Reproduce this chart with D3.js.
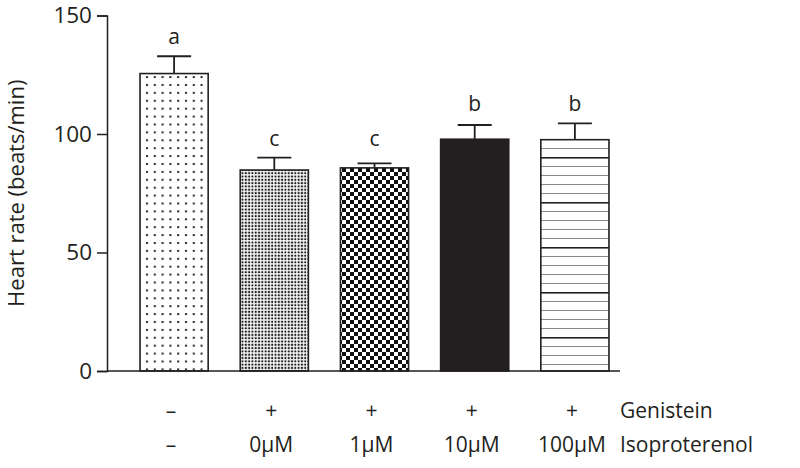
<!DOCTYPE html>
<html>
<head>
<meta charset="utf-8">
<script src="https://cdn.jsdelivr.net/npm/d3@7"></script>
<style>
  body { margin: 0; background: #fff; }
  text { font-family: "Open Sans", "Noto Sans", sans-serif; fill: #231f20; }
</style>
</head>
<body>
<script>
// data
const groups = ['ctrl', 'iso0', 'iso1', 'iso10', 'iso100']
const heartRate = [125.5, 84.8, 85.7, 97.8, 97.6]
const errUpper = [132.8, 90.0, 87.6, 103.8, 104.5]
const letters = ['a', 'c', 'c', 'b', 'b']
const genistein = ['\u2013', '+', '+', '+', '+']
const isoproterenol = ['\u2013', '0\u03bcM', '1\u03bcM', '10\u03bcM', '100\u03bcM']
const fills = ['dotsSparse', 'dotsDense', 'checker', 'solid', 'hlines']
const yTicks = [0, 50, 100, 150]

const width = 800
const height = 468
const axisX = 107
const axisEnd = 620

const svg = d3.select('body').append('svg')
  .attr('width', width)
  .attr('height', height)

const ink = '#231f20'

// patterns for the bar fills
const defs = svg.append('defs')

const p1 = defs.append('pattern').attr('id', 'dotsSparse')
  .attr('patternUnits', 'userSpaceOnUse').attr('width', 7.8).attr('height', 7.9)
  .attr('x', 143).attr('y', 2)
p1.append('rect').attr('width', 7.8).attr('height', 7.9).attr('fill', '#fff')
p1.append('rect').attr('x', 3).attr('y', 3).attr('width', 2).attr('height', 2).attr('fill', '#222')

const p2 = defs.append('pattern').attr('id', 'dotsDense')
  .attr('patternUnits', 'userSpaceOnUse').attr('width', 3.3).attr('height', 3.3)
p2.append('rect').attr('width', 3.3).attr('height', 3.3).attr('fill', '#fff')
p2.append('rect').attr('x', 0.6).attr('y', 0.6).attr('width', 2).attr('height', 2).attr('fill', '#1a1a1a')

const p3 = defs.append('pattern').attr('id', 'checker')
  .attr('patternUnits', 'userSpaceOnUse').attr('width', 8).attr('height', 8)
  .attr('x', 342).attr('y', 0)
p3.append('rect').attr('width', 8).attr('height', 8).attr('fill', '#fff')
p3.append('rect').attr('width', 4).attr('height', 4).attr('fill', '#111')
p3.append('rect').attr('x', 4).attr('y', 4).attr('width', 4).attr('height', 4).attr('fill', '#111')

const p5 = defs.append('pattern').attr('id', 'hlines')
  .attr('patternUnits', 'userSpaceOnUse').attr('width', 10).attr('height', 45)
  .attr('x', 0).attr('y', 22)
p5.append('rect').attr('width', 10).attr('height', 45).attr('fill', '#fff')
d3.range(5).forEach(i => {
  p5.append('rect').attr('x', 0).attr('y', i * 9)
    .attr('width', 10).attr('height', i === 0 ? 1.6 : 1)
    .attr('fill', i === 0 ? '#222' : '#8a8a8a')
})

const fillFor = (f) => f === 'solid' ? ink : `url(#${f})`

const x = d3.scaleBand().domain(groups).range([124, 625])
  .paddingInner(0.32).paddingOuter(0.16)
const y = d3.scaleLinear().domain([0, 150]).range([371, 15.5])

// y axis
const yAxis = d3.axisLeft(y).tickValues(yTicks).tickSize(10).tickPadding(5)
const gy = svg.append('g').attr('transform', `translate(${axisX},0)`).call(yAxis)
gy.select('.domain').attr('stroke', ink).attr('stroke-width', 1.5)
gy.selectAll('.tick line').attr('stroke', ink).attr('stroke-width', 1.5)
gy.selectAll('.tick text').attr('font-size', 22.5).attr('fill', ink)
  .style('font-family', '"Open Sans", sans-serif')

svg.append('text')
  .attr('transform', `translate(24,${(y(0) + y(150)) / 2}) rotate(-90)`)
  .attr('text-anchor', 'middle')
  .attr('font-size', 22)
  .text('Heart rate (beats/min)')

// bars
svg.selectAll('rect.bar').data(groups).join('rect')
  .attr('class', 'bar')
  .attr('x', d => x(d))
  .attr('width', x.bandwidth())
  .attr('y', (d, i) => y(heartRate[i]))
  .attr('height', (d, i) => y(0) - y(heartRate[i]))
  .attr('fill', (d, i) => fillFor(fills[i]))
  .attr('stroke', ink)
  .attr('stroke-width', 1.6)

// x axis line drawn over bar bottoms
svg.append('line')
  .attr('x1', axisX).attr('x2', axisEnd)
  .attr('y1', y(0)).attr('y2', y(0))
  .attr('stroke', ink).attr('stroke-width', 1.6)

// error bars (upper only)
const cx = d => x(d) + x.bandwidth() / 2
const capHalf = 17
const err = svg.append('g').attr('stroke', ink).attr('stroke-width', 1.8)
err.selectAll('line.stem').data(groups).join('line')
  .attr('class', 'stem')
  .attr('x1', cx).attr('x2', cx)
  .attr('y1', (d, i) => y(heartRate[i]))
  .attr('y2', (d, i) => y(errUpper[i]))
err.selectAll('line.cap').data(groups).join('line')
  .attr('class', 'cap')
  .attr('x1', d => cx(d) - capHalf).attr('x2', d => cx(d) + capHalf)
  .attr('y1', (d, i) => y(errUpper[i]))
  .attr('y2', (d, i) => y(errUpper[i]))

// significance letters: same letter sits at the same height
const letterTop = {}
letters.forEach((l, i) => { letterTop[l] = Math.max(letterTop[l] || 0, errUpper[i]) })
svg.selectAll('text.sig').data(groups).join('text')
  .attr('class', 'sig')
  .attr('x', cx)
  .attr('y', (d, i) => y(letterTop[letters[i]]) - 12)
  .attr('text-anchor', 'middle')
  .attr('font-size', 21)
  .text((d, i) => letters[i])

// treatment rows under the axis
const rowOffset = -3
svg.selectAll('text.gen').data(groups).join('text')
  .attr('class', 'gen')
  .attr('x', d => cx(d) + rowOffset).attr('y', 418)
  .attr('text-anchor', 'middle').attr('font-size', 21)
  .text((d, i) => genistein[i])
svg.selectAll('text.iso').data(groups).join('text')
  .attr('class', 'iso')
  .attr('x', d => cx(d) + rowOffset).attr('y', 452)
  .attr('text-anchor', 'middle').attr('font-size', 21)
  .text((d, i) => isoproterenol[i])

svg.append('text').attr('x', 620).attr('y', 418).attr('font-size', 21).text('Genistein')
svg.append('text').attr('x', 620).attr('y', 452).attr('font-size', 21).text('Isoproterenol')
</script>
</body>
</html>
